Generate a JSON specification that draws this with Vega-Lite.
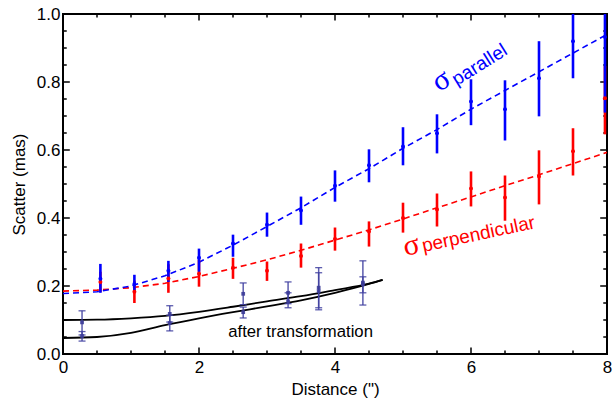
{
  "$schema": "https://vega.github.io/schema/vega-lite/v6.json",
  "autosize": "none",
  "width": 544,
  "height": 340,
  "padding": {"left": 63, "top": 14, "right": 9, "bottom": 46},
  "background": "white",
  "config": {
    "view": {"stroke": "black", "strokeWidth": 2},
    "font": "Liberation Sans",
    "axis": {"labelFont": "Liberation Sans", "titleFont": "Liberation Sans", "labelFontSize": 17, "titleFontSize": 17, "titleFontWeight": "normal", "labelColor": "black", "titleColor": "black", "grid": false, "domain": false, "ticks": false, "labelOverlap": false, "labelBound": false, "labelFlush": false}
  },
  "datasets": {
    "meas": [
      {"d": 0.55, "v": 0.212, "lo": 0.182, "hi": 0.242, "s": "perp"},
      {"d": 1.05, "v": 0.183, "lo": 0.15, "hi": 0.216, "s": "perp"},
      {"d": 1.55, "v": 0.222, "lo": 0.18, "hi": 0.264, "s": "perp"},
      {"d": 2.0, "v": 0.236, "lo": 0.198, "hi": 0.277, "s": "perp"},
      {"d": 2.5, "v": 0.254, "lo": 0.221, "hi": 0.283, "s": "perp"},
      {"d": 3.0, "v": 0.245, "lo": 0.215, "hi": 0.272, "s": "perp"},
      {"d": 3.5, "v": 0.288, "lo": 0.254, "hi": 0.325, "s": "perp"},
      {"d": 4.0, "v": 0.338, "lo": 0.304, "hi": 0.372, "s": "perp"},
      {"d": 4.5, "v": 0.36, "lo": 0.316, "hi": 0.39, "s": "perp"},
      {"d": 5.0, "v": 0.4, "lo": 0.357, "hi": 0.445, "s": "perp"},
      {"d": 5.5, "v": 0.425, "lo": 0.375, "hi": 0.472, "s": "perp"},
      {"d": 6.0, "v": 0.487, "lo": 0.434, "hi": 0.537, "s": "perp"},
      {"d": 6.5, "v": 0.46, "lo": 0.392, "hi": 0.525, "s": "perp"},
      {"d": 7.0, "v": 0.522, "lo": 0.44, "hi": 0.599, "s": "perp"},
      {"d": 7.5, "v": 0.596, "lo": 0.525, "hi": 0.664, "s": "perp"},
      {"d": 7.97, "v": 0.752, "lo": 0.646, "hi": 0.847, "s": "perp"},
      {"d": 0.55, "v": 0.221, "lo": 0.18, "hi": 0.265, "s": "par"},
      {"d": 1.05, "v": 0.206, "lo": 0.18, "hi": 0.233, "s": "par"},
      {"d": 1.55, "v": 0.245, "lo": 0.212, "hi": 0.274, "s": "par"},
      {"d": 2.0, "v": 0.283, "lo": 0.242, "hi": 0.31, "s": "par"},
      {"d": 2.5, "v": 0.325, "lo": 0.286, "hi": 0.351, "s": "par"},
      {"d": 3.0, "v": 0.38, "lo": 0.345, "hi": 0.416, "s": "par"},
      {"d": 3.5, "v": 0.422, "lo": 0.38, "hi": 0.463, "s": "par"},
      {"d": 4.0, "v": 0.495, "lo": 0.448, "hi": 0.54, "s": "par"},
      {"d": 4.5, "v": 0.555, "lo": 0.505, "hi": 0.602, "s": "par"},
      {"d": 5.0, "v": 0.61, "lo": 0.555, "hi": 0.667, "s": "par"},
      {"d": 5.5, "v": 0.649, "lo": 0.59, "hi": 0.705, "s": "par"},
      {"d": 6.0, "v": 0.743, "lo": 0.673, "hi": 0.808, "s": "par"},
      {"d": 6.5, "v": 0.72, "lo": 0.628, "hi": 0.805, "s": "par"},
      {"d": 7.0, "v": 0.811, "lo": 0.699, "hi": 0.92, "s": "par"},
      {"d": 7.5, "v": 0.92, "lo": 0.811, "hi": 1.03, "s": "par"},
      {"d": 7.97, "v": 0.932, "lo": 0.71, "hi": 1.15, "s": "par"}
    ],
    "fit": [
      {"d": 0, "v": 0.185, "s": "perp"}, {"d": 0.5, "v": 0.188, "s": "perp"}, {"d": 1, "v": 0.195, "s": "perp"},
      {"d": 1.5, "v": 0.208, "s": "perp"}, {"d": 2, "v": 0.228, "s": "perp"}, {"d": 2.5, "v": 0.252, "s": "perp"},
      {"d": 3, "v": 0.277, "s": "perp"}, {"d": 3.5, "v": 0.305, "s": "perp"}, {"d": 4, "v": 0.335, "s": "perp"},
      {"d": 4.5, "v": 0.365, "s": "perp"}, {"d": 5, "v": 0.397, "s": "perp"}, {"d": 5.5, "v": 0.43, "s": "perp"},
      {"d": 6, "v": 0.462, "s": "perp"}, {"d": 6.5, "v": 0.495, "s": "perp"}, {"d": 7, "v": 0.527, "s": "perp"},
      {"d": 7.5, "v": 0.56, "s": "perp"}, {"d": 8, "v": 0.593, "s": "perp"},
      {"d": 0, "v": 0.178, "s": "par"}, {"d": 0.5, "v": 0.183, "s": "par"}, {"d": 1, "v": 0.2, "s": "par"},
      {"d": 1.5, "v": 0.23, "s": "par"}, {"d": 2, "v": 0.27, "s": "par"}, {"d": 2.5, "v": 0.32, "s": "par"},
      {"d": 3, "v": 0.375, "s": "par"}, {"d": 3.5, "v": 0.43, "s": "par"}, {"d": 4, "v": 0.49, "s": "par"},
      {"d": 4.5, "v": 0.545, "s": "par"}, {"d": 5, "v": 0.605, "s": "par"}, {"d": 5.5, "v": 0.66, "s": "par"},
      {"d": 6, "v": 0.72, "s": "par"}, {"d": 6.5, "v": 0.775, "s": "par"}, {"d": 7, "v": 0.83, "s": "par"},
      {"d": 7.5, "v": 0.885, "s": "par"}, {"d": 8, "v": 0.94, "s": "par"}
    ],
    "tr": [
      {"d": 0.28, "v": 0.093, "lo": 0.056, "hi": 0.127},
      {"d": 0.28, "v": 0.053, "lo": 0.038, "hi": 0.066},
      {"d": 1.57, "v": 0.118, "lo": 0.094, "hi": 0.142},
      {"d": 1.57, "v": 0.091, "lo": 0.068, "hi": 0.114},
      {"d": 2.65, "v": 0.177, "lo": 0.145, "hi": 0.209},
      {"d": 2.65, "v": 0.123, "lo": 0.106, "hi": 0.138},
      {"d": 3.31, "v": 0.18, "lo": 0.148, "hi": 0.212},
      {"d": 3.31, "v": 0.155, "lo": 0.136, "hi": 0.18},
      {"d": 3.76, "v": 0.195, "lo": 0.136, "hi": 0.254},
      {"d": 3.76, "v": 0.185, "lo": 0.13, "hi": 0.239},
      {"d": 4.41, "v": 0.21, "lo": 0.144, "hi": 0.274},
      {"d": 4.41, "v": 0.205, "lo": 0.18, "hi": 0.227}
    ],
    "trfit": [
      {"d": 0, "v": 0.1, "c": "a"}, {"d": 0.5, "v": 0.101, "c": "a"}, {"d": 1, "v": 0.105, "c": "a"},
      {"d": 1.5, "v": 0.112, "c": "a"}, {"d": 2, "v": 0.124, "c": "a"}, {"d": 2.5, "v": 0.139, "c": "a"},
      {"d": 3, "v": 0.155, "c": "a"}, {"d": 3.5, "v": 0.17, "c": "a"}, {"d": 4, "v": 0.188, "c": "a"},
      {"d": 4.5, "v": 0.207, "c": "a"}, {"d": 4.7, "v": 0.218, "c": "a"},
      {"d": 0, "v": 0.047, "c": "b"}, {"d": 0.5, "v": 0.05, "c": "b"}, {"d": 1, "v": 0.062, "c": "b"},
      {"d": 1.5, "v": 0.085, "c": "b"}, {"d": 2, "v": 0.105, "c": "b"}, {"d": 2.5, "v": 0.123, "c": "b"},
      {"d": 3, "v": 0.14, "c": "b"}, {"d": 3.5, "v": 0.158, "c": "b"}, {"d": 4, "v": 0.18, "c": "b"},
      {"d": 4.5, "v": 0.206, "c": "b"}, {"d": 4.7, "v": 0.218, "c": "b"}
    ],
    "xmaj": [{"p": 2}, {"p": 4}, {"p": 6}],
    "xmin": [{"p": 0.5}, {"p": 1}, {"p": 1.5}, {"p": 2.5}, {"p": 3}, {"p": 3.5}, {"p": 4.5}, {"p": 5}, {"p": 5.5}, {"p": 6.5}, {"p": 7}, {"p": 7.5}],
    "ymaj": [{"p": 0.2}, {"p": 0.4}, {"p": 0.6}, {"p": 0.8}],
    "ymin": [{"p": 0.05}, {"p": 0.1}, {"p": 0.15}, {"p": 0.25}, {"p": 0.3}, {"p": 0.35}, {"p": 0.45}, {"p": 0.5}, {"p": 0.55}, {"p": 0.65}, {"p": 0.7}, {"p": 0.75}, {"p": 0.85}, {"p": 0.9}, {"p": 0.95}]
  },
  "layer": [
    {
      "data": {"name": "fit"},
      "transform": [{"filter": "datum.s === 'perp'"}],
      "mark": {"type": "line", "color": "#ff0000", "strokeWidth": 1.6, "strokeDash": [6, 4], "clip": true},
      "encoding": {
        "x": {"field": "d", "type": "quantitative", "scale": {"domain": [0, 8], "nice": false, "zero": false},
          "axis": {"orient": "bottom", "title": "Distance (\")", "values": [0, 2, 4, 6, 8], "format": "d",
            "labelPadding": 5, "titlePadding": 6}},
        "y": {"field": "v", "type": "quantitative", "scale": {"domain": [0, 1], "nice": false, "zero": false},
          "axis": {"orient": "left", "title": "Scatter (mas)", "values": [0, 0.2, 0.4, 0.6, 0.8, 1], "format": ".1f",
            "labelPadding": 3, "titlePadding": 8}}
      }
    },
    {
      "data": {"name": "fit"},
      "transform": [{"filter": "datum.s === 'par'"}],
      "mark": {"type": "line", "color": "#0000ff", "strokeWidth": 1.6, "strokeDash": [6, 4], "clip": true},
      "encoding": {
        "x": {"field": "d", "type": "quantitative", "axis": null},
        "y": {"field": "v", "type": "quantitative", "axis": null}
      }
    },
    {
      "data": {"name": "xmaj"},
      "mark": {"type": "rule", "color": "black", "strokeWidth": 1.5},
      "encoding": {
        "x": {"field": "p", "type": "quantitative", "axis": null},
        "y": {"datum": 0, "type": "quantitative", "axis": null},
        "y2": {"datum": 0.019}
      }
    },
    {
      "data": {"name": "xmaj"},
      "mark": {"type": "rule", "color": "black", "strokeWidth": 1.5},
      "encoding": {
        "x": {"field": "p", "type": "quantitative", "axis": null},
        "y": {"datum": 1, "type": "quantitative", "axis": null},
        "y2": {"datum": 0.981}
      }
    },
    {
      "data": {"name": "xmin"},
      "mark": {"type": "rule", "color": "black", "strokeWidth": 1.5},
      "encoding": {
        "x": {"field": "p", "type": "quantitative", "axis": null},
        "y": {"datum": 0, "type": "quantitative", "axis": null},
        "y2": {"datum": 0.01}
      }
    },
    {
      "data": {"name": "xmin"},
      "mark": {"type": "rule", "color": "black", "strokeWidth": 1.5},
      "encoding": {
        "x": {"field": "p", "type": "quantitative", "axis": null},
        "y": {"datum": 1, "type": "quantitative", "axis": null},
        "y2": {"datum": 0.99}
      }
    },
    {
      "data": {"name": "ymaj"},
      "mark": {"type": "rule", "color": "black", "strokeWidth": 1.5},
      "encoding": {
        "y": {"field": "p", "type": "quantitative", "axis": null},
        "x": {"datum": 0, "type": "quantitative", "axis": null},
        "x2": {"datum": 0.1}
      }
    },
    {
      "data": {"name": "ymaj"},
      "mark": {"type": "rule", "color": "black", "strokeWidth": 1.5},
      "encoding": {
        "y": {"field": "p", "type": "quantitative", "axis": null},
        "x": {"datum": 8, "type": "quantitative", "axis": null},
        "x2": {"datum": 7.9}
      }
    },
    {
      "data": {"name": "ymin"},
      "mark": {"type": "rule", "color": "black", "strokeWidth": 1.5},
      "encoding": {
        "y": {"field": "p", "type": "quantitative", "axis": null},
        "x": {"datum": 0, "type": "quantitative", "axis": null},
        "x2": {"datum": 0.055}
      }
    },
    {
      "data": {"name": "ymin"},
      "mark": {"type": "rule", "color": "black", "strokeWidth": 1.5},
      "encoding": {
        "y": {"field": "p", "type": "quantitative", "axis": null},
        "x": {"datum": 8, "type": "quantitative", "axis": null},
        "x2": {"datum": 7.945}
      }
    },
    {
      "data": {"name": "meas"},
      "mark": {"type": "rule", "strokeWidth": 2.6, "clip": true},
      "encoding": {
        "x": {"field": "d", "type": "quantitative", "axis": null},
        "y": {"field": "lo", "type": "quantitative", "axis": null},
        "y2": {"field": "hi"},
        "color": {"field": "s", "type": "nominal", "scale": {"domain": ["par", "perp"], "range": ["#0000ff", "#ff0000"]}, "legend": null}
      }
    },
    {
      "data": {"name": "meas"},
      "mark": {"type": "point", "filled": true, "size": 16, "opacity": 1, "clip": true},
      "encoding": {
        "x": {"field": "d", "type": "quantitative", "axis": null},
        "y": {"field": "v", "type": "quantitative", "axis": null},
        "color": {"field": "s", "type": "nominal", "legend": null}
      }
    },
    {
      "data": {"name": "trfit"},
      "mark": {"type": "line", "color": "black", "strokeWidth": 1.8, "interpolate": "monotone"},
      "encoding": {
        "x": {"field": "d", "type": "quantitative", "axis": null},
        "y": {"field": "v", "type": "quantitative", "axis": null},
        "detail": {"field": "c"}
      }
    },
    {
      "data": {"name": "tr"},
      "mark": {"type": "rule", "color": "#4040a0", "strokeWidth": 1.5, "opacity": 0.85},
      "encoding": {
        "x": {"field": "d", "type": "quantitative", "axis": null},
        "y": {"field": "lo", "type": "quantitative", "axis": null},
        "y2": {"field": "hi"}
      }
    },
    {
      "data": {"name": "tr"},
      "mark": {"type": "tick", "orient": "horizontal", "color": "#4040a0", "size": 7, "thickness": 1.3, "opacity": 0.85},
      "encoding": {
        "x": {"field": "d", "type": "quantitative", "axis": null},
        "y": {"field": "lo", "type": "quantitative", "axis": null}
      }
    },
    {
      "data": {"name": "tr"},
      "mark": {"type": "tick", "orient": "horizontal", "color": "#4040a0", "size": 7, "thickness": 1.3, "opacity": 0.85},
      "encoding": {
        "x": {"field": "d", "type": "quantitative", "axis": null},
        "y": {"field": "hi", "type": "quantitative", "axis": null}
      }
    },
    {
      "data": {"name": "tr"},
      "mark": {"type": "square", "color": "#3c3c98", "size": 14, "opacity": 0.9},
      "encoding": {
        "x": {"field": "d", "type": "quantitative", "axis": null},
        "y": {"field": "v", "type": "quantitative", "axis": null}
      }
    },
    {
      "data": {"values": [
        {"d": 5.56, "v": 0.805, "t": "σ", "c": "par"},
        {"d": 5.12, "v": 0.319, "t": "σ", "c": "perp"}
      ]},
      "mark": {"type": "text", "font": "Liberation Serif", "fontSize": 30, "align": "center", "baseline": "middle"},
      "encoding": {
        "x": {"field": "d", "type": "quantitative", "axis": null},
        "y": {"field": "v", "type": "quantitative", "axis": null},
        "text": {"field": "t"},
        "angle": {"field": "c", "type": "nominal", "scale": {"domain": ["par", "perp"], "range": [328, 348]}, "legend": null},
        "color": {"field": "c", "type": "nominal", "legend": null}
      }
    },
    {
      "data": {"values": [
        {"d": 5.79, "v": 0.788, "t": "parallel", "c": "par"},
        {"d": 5.3, "v": 0.3, "t": "perpendicular", "c": "perp"}
      ]},
      "mark": {"type": "text", "font": "Liberation Sans", "fontSize": 19, "align": "left", "baseline": "alphabetic"},
      "encoding": {
        "x": {"field": "d", "type": "quantitative", "axis": null},
        "y": {"field": "v", "type": "quantitative", "axis": null},
        "text": {"field": "t"},
        "angle": {"field": "c", "type": "nominal", "scale": {"domain": ["par", "perp"], "range": [328, 348]}, "legend": null},
        "color": {"field": "c", "type": "nominal", "legend": null}
      }
    },
    {
      "data": {"values": [{"d": 2.43, "v": 0.05, "t": "after transformation"}]},
      "mark": {"type": "text", "font": "Liberation Sans", "fontSize": 16.7, "align": "left", "baseline": "alphabetic", "color": "black"},
      "encoding": {
        "x": {"field": "d", "type": "quantitative", "axis": null},
        "y": {"field": "v", "type": "quantitative", "axis": null},
        "text": {"field": "t"}
      }
    }
  ],
  "resolve": {"axis": {"x": "independent", "y": "independent"}}
}
